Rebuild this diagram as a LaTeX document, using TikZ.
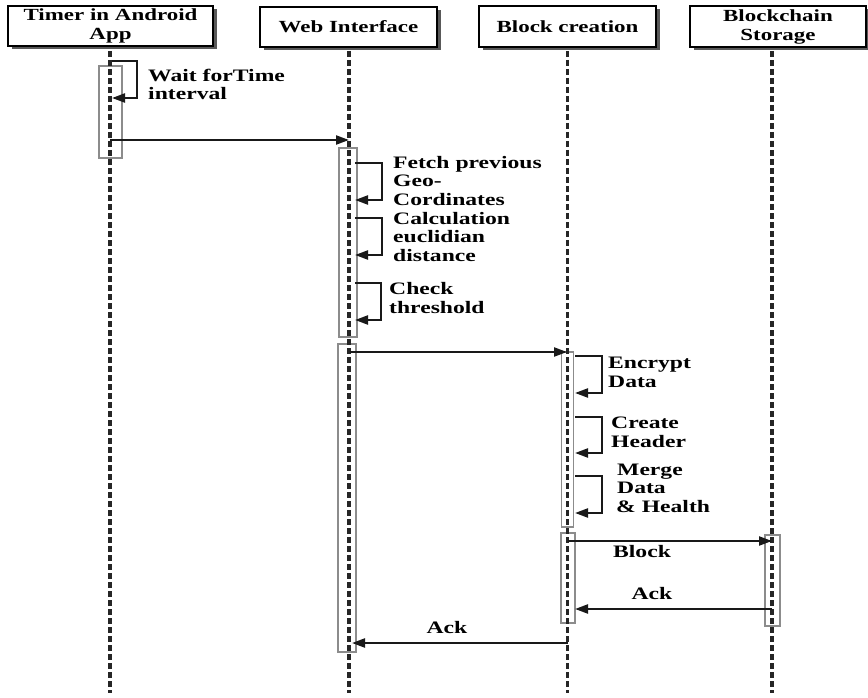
\documentclass[tikz,border=0pt]{standalone}
\usepackage{fontspec}
\setmainfont[FakeStretch=1.35]{Liberation Serif}
\usetikzlibrary{arrows.meta,shadows}
\begin{document}
\begin{tikzpicture}[x=1pt,y=-1pt,
  header/.style={draw=black, line width=1.4pt, fill=white, inner sep=0pt, align=center,
    font=\bfseries\fontsize{17}{19}\selectfont,
    drop shadow={shadow xshift=3.5pt, shadow yshift=-3.5pt, fill=black!65, opacity=1}},
  lifeline/.style={line width=3.2pt, black!85, dash pattern=on 6pt off 3pt},
  activation/.style={draw=black!45, line width=1.3pt},
  msg/.style={line width=2.2pt, black!90, -{Triangle[length=13pt,width=9pt]}},
  lbl/.style={anchor=base west, inner sep=0pt, align=left,
    font=\bfseries\fontsize{17.5}{18.5}\selectfont},
  mlbl/.style={anchor=base, inner sep=0pt, font=\bfseries\fontsize{17.5}{18.5}\selectfont}]
\useasboundingbox (0,0) rectangle (868,698);

% lifeline end points
\coordinate (appTop) at (110,51);   \coordinate (appBot) at (110,693);
\coordinate (webTop) at (349,51);   \coordinate (webBot) at (349,693);
\coordinate (blkTop) at (567.5,51); \coordinate (blkBot) at (567.5,693);
\coordinate (stoTop) at (772,51);   \coordinate (stoBot) at (772,693);

% activation bars
\draw[activation] (99,66) rectangle (122,158);
\draw[activation] (339,148) rectangle (357,337);
\draw[activation] (338,344) rectangle (356,652);
\draw[activation] (561.5,352) rectangle (573.5,527);
\draw[activation] (561,533) rectangle (575,623);
\draw[activation] (765,535) rectangle (780,626);

% lifelines
\draw[lifeline] (appTop) -- (appBot);
\draw[lifeline] (webTop) -- (webBot);
\draw[lifeline] (blkTop) -- (blkBot);
\draw[lifeline] (stoTop) -- (stoBot);

% self calls
\coordinate (w0s) at (112,61);  \coordinate (w0e) at (112,98);
\coordinate (f1s) at (355,163); \coordinate (f1e) at (355,200);
\coordinate (c2s) at (355,218); \coordinate (c2e) at (355,255);
\coordinate (t3s) at (355,283); \coordinate (t3e) at (355,320);
\coordinate (e4s) at (575,356); \coordinate (e4e) at (575,393);
\coordinate (h5s) at (575,417); \coordinate (h5e) at (575,453);
\coordinate (g6s) at (575,476); \coordinate (g6e) at (575,513);
\draw[msg] (w0s) -- ++(25,0) |- (w0e);
\draw[msg] (f1s) -- ++(27,0) |- (f1e);
\draw[msg] (c2s) -- ++(27,0) |- (c2e);
\draw[msg] (t3s) -- ++(26,0) |- (t3e);
\draw[msg] (e4s) -- ++(27,0) |- (e4e);
\draw[msg] (h5s) -- ++(27,0) |- (h5e);
\draw[msg] (g6s) -- ++(27,0) |- (g6e);

% messages between participants
\coordinate (m1a) at (110,140);   \coordinate (m1b) at (349,140);
\coordinate (m2a) at (350,352);   \coordinate (m2b) at (567,352);
\coordinate (m3a) at (567.5,541); \coordinate (m3b) at (772,541);
\coordinate (m4a) at (772,609);   \coordinate (m4b) at (575,609);
\coordinate (m5a) at (567.5,643); \coordinate (m5b) at (352,643);
\draw[msg] (m1a) -- (m1b);
\draw[msg] (m2a) -- (m2b);
\draw[msg] (m3a) -- (m3b);
\draw[msg] (m4a) -- (m4b);
\draw[msg] (m5a) -- (m5b);

% labels (anchored at the baseline of their last line)
\node[lbl] (lw) at (148,100) {Wait forTime\\interval};
\node[lbl] (lf) at (393,205) {Fetch previous\\Geo-\\Cordinates};
\node[lbl] (lc) at (393,261) {Calculation\\euclidian\\distance};
\node[lbl] (lt) at (389,313) {Check\\threshold};
\node[lbl] (le) at (608,387) {Encrypt\\Data};
\node[lbl] (lh) at (611,447) {Create\\Header};
\node[lbl] (lg) at (616,512) {\hspace{1pt}Merge\\\hspace{1pt}Data\\\& Health};
\node[mlbl] (lb) at (642,557) {Block};
\node[mlbl] (la1) at (652,599) {Ack};
\node[mlbl] (la2) at (447,633) {Ack};

% participants
\node[header, minimum width=205pt, minimum height=40pt] (app) at (110.5,26) {Timer in Android\\App};
\node[header, minimum width=177pt, minimum height=40pt] (web) at (348.5,27) {Web Interface};
\node[header, minimum width=177pt, minimum height=41pt] (blk) at (567.5,26.5) {Block creation};
\node[header, minimum width=176pt, minimum height=41pt] (sto) at (778,26.5) {Blockchain\\Storage};
\end{tikzpicture}
\end{document}
